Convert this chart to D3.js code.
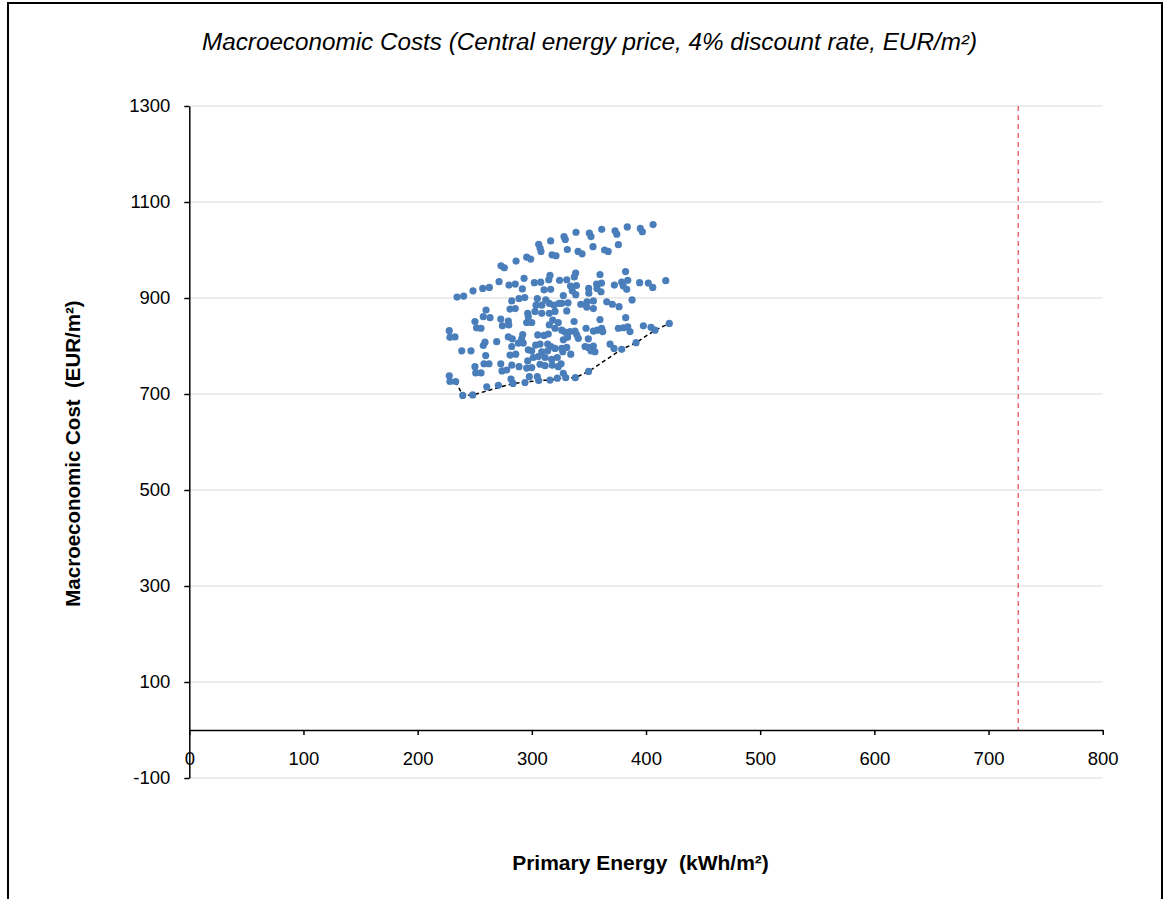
<!DOCTYPE html>
<html><head><meta charset="utf-8">
<script src="https://cdn.jsdelivr.net/npm/d3@7"></script>
<style>
html,body{margin:0;padding:0;background:#fff;}
text{font-family:"Liberation Sans",Arial,sans-serif;}
</style></head>
<body><svg id="chart" width="1165" height="899"></svg>
<script>
// Data
const xTicks = [0,100,200,300,400,500,600,700,800];
const yTicks = [-100,100,300,500,700,900,1100,1300];
const refLineX = 726;
const pointsX = [234.5,240.3,248.5,227.7,228.3,232.7,238.6,246.7,227.7,228.3,233.3,239.5,248.2,250.2,251.6,250.2,250.9,
257.0,262.8,271.3,273.0,275.9,280.0,285.5,286.2,291.7,293.2,295.5,299.0,302.2,307.8,306.0,307.2,308.0,316.5,317.7,321.2,310.7,316.5,315.9,314.8,324.3,
282.4,288.8,293.8,304.8,312.2,315.3,303.7,308.7,319.4,323.8,259.9,280.9,285.5,296.4,302.8,308.7,315.3,320.3,
328.2,329.3,338.7,350.4,351.8,361.2,372.9,374.4,383.6,395.0,396.8,406.2,331.1,340.5,344.0,353.6,363.7,366.9,375.8,
330.6,338.4,337.2,359.7,382.1,333.9,339.1,335.4,338.5,349.8,349.9,356.7,361.0,357.1,360.6,372.3,378.7,384.0,380.1,383.1,394.4,402.0,405.9,417.3,
327.6,387.8,326.2,331.7,342.9,348.3,353.9,348.1,353.9,365.6,370.5,376.4,330.6,
257.5,263.4,272.8,279.4,274.2,279.8,296.9,295.5,299.9,318.3,323.2,315.3,320.3,255.5,279.4,282.9,292.0,291.1,288.2,292.5,305.2,310.7,314.4,
269.2,259.0,257.5,282.4,303.4,307.2,313.9,316.8,320.3,296.9,299.9,308.7,313.9,259.6,280.9,285.9,301.3,305.7,311.6,317.4,322.3,
258.1,262.5,272.8,273.9,278.0,282.4,288.8,296.4,295.5,299.9,307.2,311.6,317.9,323.2,255.5,281.8,297.8,304.8,306.0,315.9,322.3,260.5,270.7,294.0,283.5,
337.0,359.7,382.2,326.2,329.1,327.6,331.3,333.5,337.8,339.3,340.7,347.5,353.9,357.4,361.2,362.1,349.5,375.8,380.1,384.0,386.0,
326.2,330.6,327.1,334.1,346.6,349.5,353.9,351.8,355.3,368.5,372.0,378.7,391.3,325.6,327.6,329.7,338.1,349.7,397.7,404.4,407.9,420.4];
const pointsY = [902,904,915,832,818,819,790,790,738,726,726,697,698,851,838,757,744,
920,922,934,967,963,927,929,977,919,941,985,981,932,933,1012,1004,997,1019,990,988,917,918,947,938,937,
894,899,901,899,896,889,885,885,885,889,875,877,878,868,872,868,868,872,
1028,1022,1037,1035,1028,1043,1040,1033,1048,1045,1038,1053,1001,997,992,1007,1000,997,1011,
938,952,944,949,955,925,926,915,907,920,910,929,931,920,913,927,933,937,925,918,932,931,922,936,
905,896,889,890,887,892,894,881,878,892,887,882,873,
861,859,856,852,842,844,861,849,849,854,849,844,837,837,819,815,824,815,806,806,823,822,825,
809,808,801,799,802,804,804,799,795,792,790,788,790,780,781,783,776,778,776,772,776,
763,763,763,748,750,760,757,769,754,755,762,759,760,757,744,731,736,736,728,729,733,715,718,724,722,
851,855,859,833,829,813,818,830,831,824,816,837,831,833,837,830,815,837,838,840,830,
795,797,788,783,799,797,800,790,788,804,795,793,807,763,743,734,734,747,842,839,833,847];
const frontierX = [233.3,239.5,248.2,283.5,306.0,315.9,329.7,338.1,349.7,378.7,391.3,407.9,420.4];
const frontierY = [726,697,698,722,728,729,734,734,747,793,807,833,847];

const svg = d3.select("#chart");
const x = d3.scaleLinear().domain([0,800]).range([189.3,1102.7]);
const y = d3.scaleLinear().domain([-100,1300]).range([778,106]);

// outer frame
svg.append("rect").attr("x",8).attr("y",3).attr("width",1154).attr("height",1000)
  .attr("fill","none").attr("stroke","#000").attr("stroke-width",2);

// title
svg.append("text").attr("x",589.5).attr("y",50).attr("text-anchor","middle")
  .attr("font-size",23).attr("font-style","italic").attr("fill","#000")
  .attr("textLength",775).attr("lengthAdjust","spacingAndGlyphs")
  .text("Macroeconomic Costs (Central energy price, 4% discount rate, EUR/m²)");

// gridlines
svg.append("g").selectAll("line").data(yTicks).join("line")
  .attr("x1",x(0)).attr("x2",x(800)).attr("y1",d=>y(d)).attr("y2",d=>y(d))
  .attr("stroke","#d9d9d9").attr("stroke-width",1.2);

// reference line
svg.append("line").attr("x1",x(refLineX)).attr("x2",x(refLineX))
  .attr("y1",y(1300)).attr("y2",y(0))
  .attr("stroke","#e0474c").attr("stroke-width",1.2).attr("stroke-dasharray","5,4");

// y axis
const yAxis = svg.append("g").attr("transform",`translate(${x(0)},0)`)
  .call(d3.axisLeft(y).tickValues(yTicks).tickSizeInner(5).tickSizeOuter(0).tickPadding(14).tickFormat(d=>String(d)));
// x axis
const xAxis = svg.append("g").attr("transform",`translate(0,${y(0)})`)
  .call(d3.axisBottom(x).tickValues(xTicks).tickSizeInner(5).tickSizeOuter(0).tickPadding(17).tickFormat(d=>String(d)));
[yAxis,xAxis].forEach(g=>{
  g.selectAll("path,line").attr("stroke","#000").attr("stroke-width",1.5);
  g.selectAll("text").attr("font-size",18.5).attr("fill","#000")
   .attr("font-family","'Liberation Sans',Arial,sans-serif");
});

// frontier dashed line
svg.append("path").datum(frontierX.map((v,i)=>[v,frontierY[i]]))
  .attr("fill","none").attr("stroke","#000").attr("stroke-width",1.5).attr("stroke-dasharray","4,3")
  .attr("d",d3.line().x(d=>x(d[0])).y(d=>y(d[1])));

// points
svg.append("g").selectAll("circle").data(pointsX.map((v,i)=>[v,pointsY[i]])).join("circle")
  .attr("cx",d=>x(d[0])).attr("cy",d=>y(d[1])).attr("r",3.6).attr("fill","#4a7ebb");

// axis titles
svg.append("text").attr("transform","translate(80,453.5) rotate(-90)").attr("text-anchor","middle")
  .attr("font-size",20.5).attr("font-weight","bold").attr("fill","#000")
  .style("white-space","pre")
  .text("Macroeconomic Cost  (EUR/m²)");
svg.append("text").attr("x",640.5).attr("y",870).attr("text-anchor","middle")
  .attr("font-size",21).attr("font-weight","bold").attr("fill","#000")
  .style("white-space","pre")
  .text("Primary Energy  (kWh/m²)");
</script></body></html>
